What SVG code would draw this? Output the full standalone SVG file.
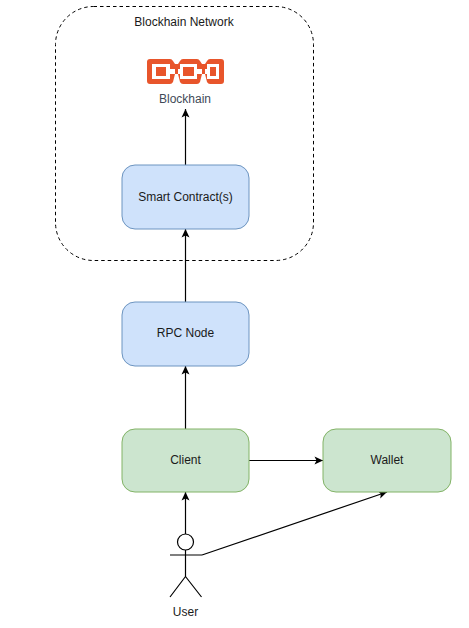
<svg xmlns="http://www.w3.org/2000/svg" width="469" height="628" viewBox="0 0 469 628">
<style>
text{font-family:"Liberation Sans",Arial,sans-serif;font-size:12px;fill:#1a1a1a;text-anchor:middle}
.blue{fill:#cfe2fb;stroke:#6c94c0;stroke-width:1}
.green{fill:#cce5cf;stroke:#82b366;stroke-width:1}
.conn{fill:none;stroke:#000;stroke-width:1.2}
.act{fill:none;stroke:#000;stroke-width:1.2}
</style>
<defs>
<marker id="arr" markerUnits="userSpaceOnUse" markerWidth="10" markerHeight="10" refX="9" refY="5" orient="auto">
<path d="M0.5 1 L9 5 L0.5 9 L2.5 5 Z" fill="#000"/>
</marker>
</defs>
<rect width="469" height="628" fill="#fff"/>
<g id="network">
<rect x="55.500" y="6.500" width="258" height="254" rx="38" fill="none" stroke="#000" stroke-width="1" stroke-dasharray="3.500 3"/>
<text x="184" y="26">Blockhain Network</text>
</g>
<g id="connectors">
<path class="conn" d="M185.500 165V109" marker-end="url(#arr)"/>
<path class="conn" d="M185.500 302V229" marker-end="url(#arr)"/>
<path class="conn" d="M185.500 429V366" marker-end="url(#arr)"/>
<path class="conn" d="M249 460.500H323" marker-end="url(#arr)"/>
<path class="conn" d="M185.500 534V492" marker-end="url(#arr)"/>
<path class="conn" d="M202 555L387 492" marker-end="url(#arr)"/>
</g>
<g id="blockchain">
<path fill="#e8552b" fill-rule="evenodd" d="M150 59H170Q172 59 173 61L175 64H178L180 61Q181 59 183 59H197Q199 59 200 61L202 64H205L207 61Q208 59 210 59H221Q224 59 224 62V81Q224 84 221 84H210Q208 84 207 82L205 74H202L200 82Q199 84 197 84H183Q181 84 180 82L178 74H175L173 82Q172 84 170 84H150Q147 84 147 81V62Q147 59 150 59Z M152 64V79H170V74H175V69H170V64Z M180 64V69H178V74H180V79H197V74H202V69H197V64Z M207 64V69H205V74H207V79H219V64Z M156 67H166V76H156Z M183 67H194V76H183Z M210 67H216V76H210Z"/>
<path fill="#e8552b" fill-rule="evenodd" d="M159 70H163V73H159Z M186 70H191V73H186Z M212 70H214V73H212Z"/>
<text x="185" y="103" style="fill:#3f4a57">Blockhain</text>
</g>
<g id="smart-contract">
<rect class="blue" x="122" y="165" width="127" height="64" rx="13"/>
<text x="185.500" y="201">Smart Contract(s)</text>
</g>
<g id="rpc-node">
<rect class="blue" x="122" y="302" width="127" height="64" rx="13"/>
<text x="185.500" y="337">RPC Node</text>
</g>
<g id="client">
<rect class="green" x="122" y="429" width="127" height="63" rx="13"/>
<text x="185.500" y="464">Client</text>
</g>
<g id="wallet">
<rect class="green" x="323" y="429" width="128" height="63" rx="13"/>
<text x="387" y="464">Wallet</text>
</g>
<g id="user">
<circle class="act" cx="185.500" cy="542" r="8"/>
<path class="act" d="M185.500 550V576.500M170 555H202M185.500 576.500L170 597M185.500 576.500L201.500 597"/>
<text x="185.500" y="616">User</text>
</g>
</svg>
